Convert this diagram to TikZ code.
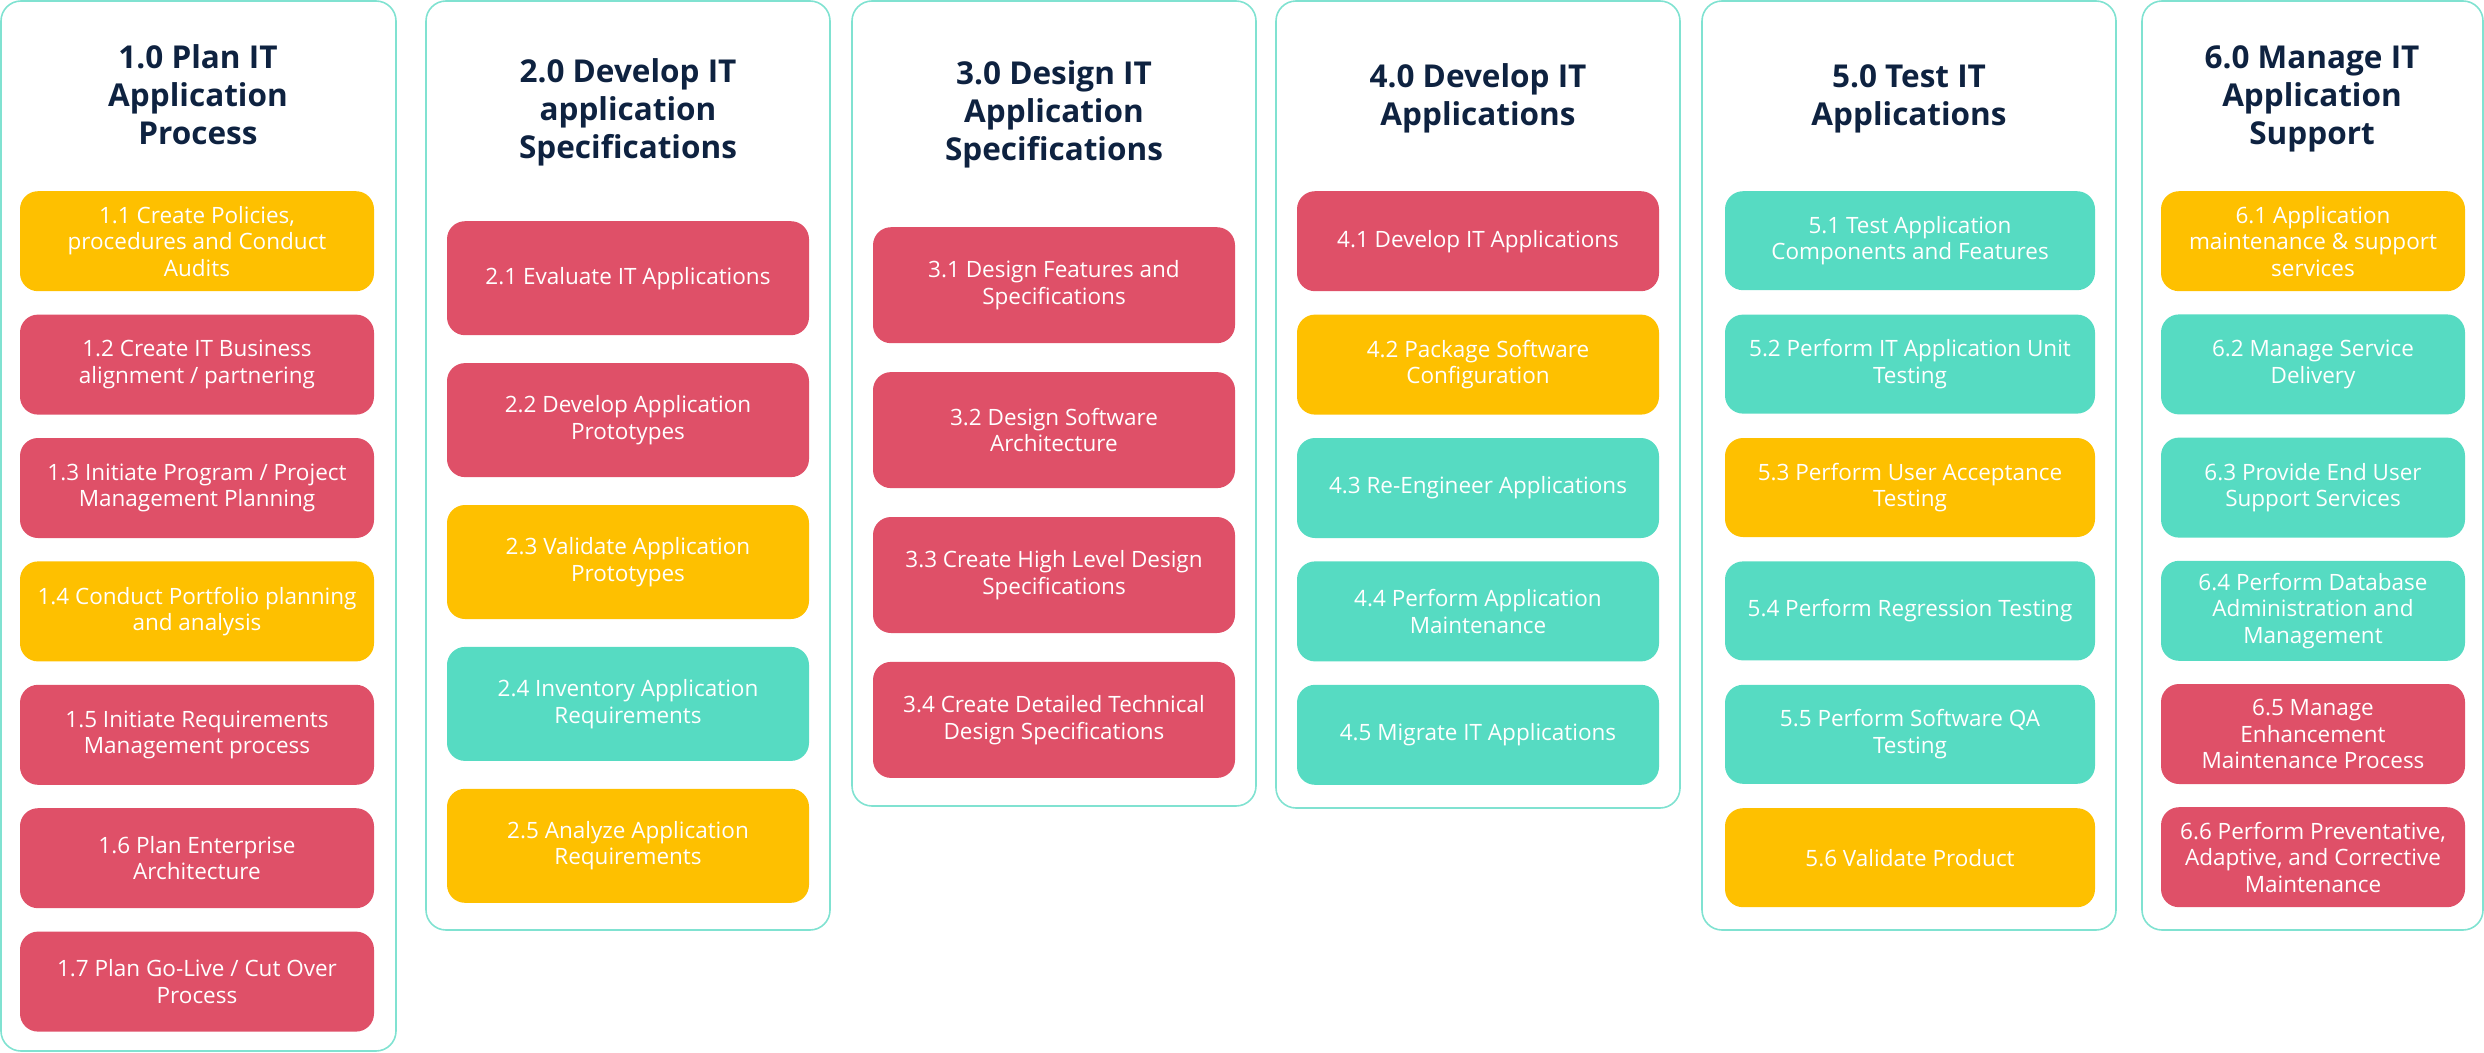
\documentclass[tikz,border=0pt]{standalone}
\usepackage{fontspec}
\setmainfont{Open Sans}
\usetikzlibrary{positioning}

\definecolor{cred}{HTML}{DF5068}
\definecolor{cyellow}{HTML}{FEC000}
\definecolor{cteal}{HTML}{56DBC2}
\definecolor{cframe}{HTML}{80E2D1}
\definecolor{cnavy}{HTML}{0E2240}

\begin{document}
\begin{tikzpicture}[x=1pt, y=-1pt,
    frame/.style={draw=cframe, line width=1.6pt, rounded corners=20pt},
    title/.style={anchor=base, align=center, text=cnavy, font=\fontsize{31.5}{38}\selectfont\bfseries},
    box/.style={rounded corners=18pt, inner sep=0pt, align=center, text=white, font=\fontsize{22.5}{26.5}\selectfont},
    redbox/.style={box, fill=cred},
    yellowbox/.style={box, fill=cyellow},
    tealbox/.style={box, fill=cteal}]
    \useasboundingbox (0,0) rectangle (2484,1052);

    % column frames
    \draw[frame] (1,1) rectangle (396,1051);
    \draw[frame] (426,1) rectangle (830,930);
    \draw[frame] (852,1) rectangle (1256,806);
    \draw[frame] (1276,1) rectangle (1680,808);
    \draw[frame] (1702,1) rectangle (2116,930);
    \draw[frame] (2142,1) rectangle (2483,930);

    % headings
    \node[title] (t1) at (198,144) {1.0 Plan IT\\Application\\Process};
    \node[title] (t2) at (628,158) {2.0 Develop IT\\application\\Specifications};
    \node[title] (t3) at (1054,160) {3.0 Design IT\\Application\\Specifications};
    \node[title] (t4) at (1478,125) {4.0 Develop IT\\Applications};
    \node[title] (t5) at (1909,125) {5.0 Test IT\\Applications};
    \node[title] (t6) at (2312,144) {6.0 Manage IT\\Application\\Support};

    % 1.0
    \begin{scope}[box/.append style={minimum width=354pt, minimum height=100pt}, node distance=23pt]
        \node[yellowbox, anchor=north] (b11) at (197,191) {1.1 Create Policies,\\procedures and Conduct\\Audits};
        \node[redbox, below=of b11] (b12) {1.2 Create IT Business\\alignment / partnering};
        \node[redbox, below=of b12] (b13) {1.3 Initiate Program / Project\\Management Planning};
        \node[yellowbox, below=of b13] (b14) {1.4 Conduct Portfolio planning\\and analysis};
        \node[redbox, below=of b14] (b15) {1.5 Initiate Requirements\\Management process};
        \node[redbox, below=of b15] (b16) {1.6 Plan Enterprise\\Architecture};
        \node[redbox, below=of b16] (b17) {1.7 Plan Go-Live / Cut Over\\Process};
    \end{scope}

    % 2.0
    \begin{scope}[box/.append style={minimum width=362pt, minimum height=114pt}, node distance=27.5pt]
        \node[redbox, anchor=north] (b21) at (628,221) {2.1 Evaluate IT Applications};
        \node[redbox, below=of b21] (b22) {2.2 Develop Application\\Prototypes};
        \node[yellowbox, below=of b22] (b23) {2.3 Validate Application\\Prototypes};
        \node[tealbox, below=of b23] (b24) {2.4 Inventory Application\\Requirements};
        \node[yellowbox, below=of b24] (b25) {2.5 Analyze Application\\Requirements};
    \end{scope}

    % 3.0
    \begin{scope}[box/.append style={minimum width=362pt, minimum height=116pt}, node distance=28.5pt]
        \node[redbox, anchor=north] (b31) at (1054,227) {3.1 Design Features and\\Specifications};
        \node[redbox, below=of b31] (b32) {3.2 Design Software\\Architecture};
        \node[redbox, below=of b32] (b33) {3.3 Create High Level Design\\Specifications};
        \node[redbox, below=of b33] (b34) {3.4 Create Detailed Technical\\Design Specifications};
    \end{scope}

    % 4.0
    \begin{scope}[box/.append style={minimum width=362pt, minimum height=100pt}, node distance=23pt]
        \node[redbox, anchor=north] (b41) at (1478,191) {4.1 Develop IT Applications};
        \node[yellowbox, below=of b41] (b42) {4.2 Package Software\\Configuration};
        \node[tealbox, below=of b42] (b43) {4.3 Re-Engineer Applications};
        \node[tealbox, below=of b43] (b44) {4.4 Perform Application\\Maintenance};
        \node[tealbox, below=of b44] (b45) {4.5 Migrate IT Applications};
    \end{scope}

    % 5.0
    \begin{scope}[box/.append style={minimum width=370pt, minimum height=99pt}, node distance=24pt]
        \node[tealbox, anchor=north] (b51) at (1910,191) {5.1 Test Application\\Components and Features};
        \node[tealbox, below=of b51] (b52) {5.2 Perform IT Application Unit\\Testing};
        \node[yellowbox, below=of b52] (b53) {5.3 Perform User Acceptance\\Testing};
        \node[tealbox, below=of b53] (b54) {5.4 Perform Regression Testing};
        \node[tealbox, below=of b54] (b55) {5.5 Perform Software QA\\Testing};
        \node[yellowbox, below=of b55] (b56) {5.6 Validate Product};
    \end{scope}

    % 6.0
    \begin{scope}[box/.append style={minimum width=304pt, minimum height=100pt}, node distance=22.8pt]
        \node[yellowbox, anchor=north] (b61) at (2313,191) {6.1 Application\\maintenance \& support\\services};
        \node[tealbox, below=of b61] (b62) {6.2 Manage Service\\Delivery};
        \node[tealbox, below=of b62] (b63) {6.3 Provide End User\\Support Services};
        \node[tealbox, below=of b63] (b64) {6.4 Perform Database\\Administration and\\Management};
        \node[redbox, below=of b64] (b65) {6.5 Manage\\Enhancement\\Maintenance Process};
        \node[redbox, below=of b65] (b66) {6.6 Perform Preventative,\\Adaptive, and Corrective\\Maintenance};
    \end{scope}
\end{tikzpicture}
\end{document}
